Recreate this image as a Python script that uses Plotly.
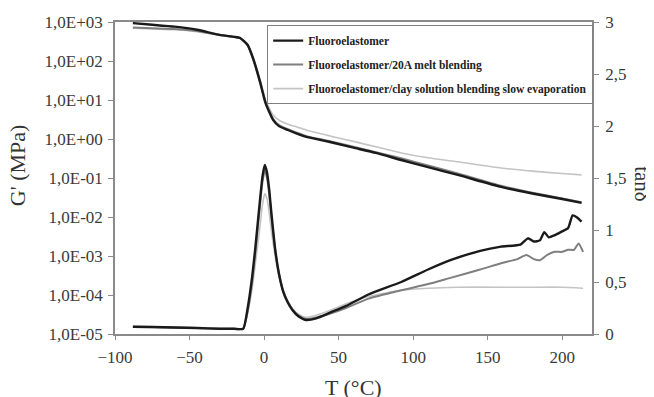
import plotly.graph_objects as go

# ---- data ----
series_names = ["Fluoroelastomer",
                "Fluoroelastomer/20A melt blending",
                "Fluoroelastomer/clay solution blending slow evaporation"]

T_g = [-88, -75, -60, -45, -30, -20, -16, -11, -7, -2.5, 1, 6, 10, 16, 22, 29, 40, 47, 60, 75, 92, 110, 130, 159, 180, 200, 213]
G_black = [933, 851, 759, 631, 468, 417, 389, 257, 107, 27.5, 8.3, 3.1, 2.14, 1.70, 1.38, 1.12, 0.91, 0.79, 0.60, 0.44, 0.29, 0.19, 0.12, 0.059, 0.040, 0.029, 0.023]
G_mid = [724, 692, 661, 589, 468, 417, 380, 251, 100, 26.3, 8.9, 3.3, 2.29, 1.78, 1.45, 1.17, 0.95, 0.83, 0.63, 0.46, 0.32, 0.21, 0.13, 0.063, 0.042, 0.030, 0.024]
G_light = [692, 661, 631, 562, 457, 407, 380, 263, 112, 31.6, 10, 4.17, 3.02, 2.40, 2.04, 1.66, 1.32, 1.12, 0.87, 0.63, 0.44, 0.33, 0.26, 0.18, 0.15, 0.13, 0.12]

T_tan_black = [-88, -75, -60, -45, -30, -20, -14, -11, -8, -6, -3, -1, 0.5, 2, 3.5, 5, 7.5, 10, 13, 16, 19, 23, 28, 35, 45, 55, 70, 92, 110, 125, 145, 159, 172, 177, 181, 185, 188, 191, 195, 199, 204, 207, 210, 213]
tan_black = [0.07, 0.068, 0.062, 0.058, 0.05, 0.05, 0.05, 0.25, 0.55, 0.81, 1.25, 1.52, 1.625, 1.55, 1.38, 1.15, 0.81, 0.58, 0.4, 0.3, 0.23, 0.17, 0.135, 0.15, 0.21, 0.27, 0.38, 0.5, 0.62, 0.71, 0.8, 0.84, 0.86, 0.92, 0.89, 0.9, 0.98, 0.93, 0.95, 0.98, 1.02, 1.14, 1.12, 1.08]

T_tan_mid = [-88, -75, -60, -45, -30, -20, -14, -11, -8, -6, -3, -1, 0.5, 2, 3.5, 5, 7.5, 10, 13, 16, 19, 23, 28, 35, 45, 55, 70, 92, 110, 125, 145, 159, 170, 176, 181, 185, 190, 195, 200, 204, 208, 211, 214]
tan_mid = [0.07, 0.068, 0.062, 0.058, 0.05, 0.05, 0.05, 0.22, 0.5, 0.76, 1.2, 1.47, 1.57, 1.5, 1.34, 1.12, 0.8, 0.58, 0.41, 0.31, 0.24, 0.18, 0.145, 0.16, 0.2, 0.25, 0.34, 0.42, 0.48, 0.54, 0.62, 0.68, 0.72, 0.76, 0.72, 0.71, 0.76, 0.79, 0.79, 0.81, 0.81, 0.87, 0.79]

T_tan_light = [-88, -75, -60, -45, -30, -20, -14, -11, -8, -6, -3, -1, 0.5, 2, 3.5, 5, 7.5, 10, 13, 16, 19, 23, 28, 35, 45, 55, 70, 92, 110, 130, 159, 180, 200, 214]
tan_light = [0.065, 0.063, 0.058, 0.055, 0.05, 0.05, 0.05, 0.2, 0.44, 0.66, 1.0, 1.25, 1.35, 1.3, 1.16, 0.98, 0.74, 0.55, 0.4, 0.31, 0.24, 0.19, 0.16, 0.18, 0.23, 0.29, 0.36, 0.42, 0.44, 0.45, 0.45, 0.45, 0.45, 0.44]

x_ticks = [-100, -50, 0, 50, 100, 150, 200]
y_left_ticks = [1e-5, 1e-4, 1e-3, 1e-2, 1e-1, 1e0, 1e1, 1e2, 1e3]
y_left_labels = ["1,0E-05", "1,0E-04", "1,0E-03", "1,0E-02", "1,0E-01", "1,0E+00", "1,0E+01", "1,0E+02", "1,0E+03"]
y_right_ticks = [0, 0.5, 1, 1.5, 2, 2.5, 3]
y_right_labels = ["0", "0,5", "1", "1,5", "2", "2,5", "3"]

colors = ["#1a1a1a", "#7f7f7f", "#c4c4c4"]
widths = [2.4, 2.0, 1.6]

fig = go.Figure()
G_list = [G_black, G_mid, G_light]
tanT_list = [T_tan_black, T_tan_mid, T_tan_light]
tan_list = [tan_black, tan_mid, tan_light]

# draw light first so black is on top
for i in [2, 1, 0]:
    fig.add_trace(go.Scatter(x=T_g, y=G_list[i], mode="lines", name=series_names[i],
                             legendgroup=str(i), showlegend=True, legendrank=i,
                             line=dict(color=colors[i], width=widths[i], shape="spline", smoothing=0.5),
                             yaxis="y"))
    fig.add_trace(go.Scatter(x=tanT_list[i], y=tan_list[i], mode="lines", name=series_names[i],
                             legendgroup=str(i), showlegend=False,
                             line=dict(color=colors[i], width=widths[i], shape="spline", smoothing=0.5),
                             yaxis="y2"))

serif = "Liberation Serif, Times New Roman, serif"
axcol = "#8a8a8a"
tickfont = dict(family=serif, size=17, color="#3a3a3a")

# page body has an 8px margin, so the figure is offset by (8, 8) in the window
fig.update_layout(
    width=654, height=397,
    margin=dict(l=107, r=70, t=14, b=71),
    paper_bgcolor="white", plot_bgcolor="white",
    font=dict(family=serif, color="#333333", size=13),
    showlegend=True,
    legend=dict(x=0.319, y=0.99, xanchor="left", yanchor="top",
                bgcolor="white", bordercolor="#808080", borderwidth=1,
                font=dict(family=serif, size=11.5, color="#222222", weight="bold"),
                traceorder="grouped", tracegroupgap=5, itemwidth=30),
    xaxis=dict(range=[-100, 220], tickvals=x_ticks, ticks="outside", ticklen=4,
               tickcolor=axcol, showline=True, linecolor=axcol, linewidth=1.5,
               mirror=True, showgrid=False, zeroline=False, ticklabelstandoff=3,
               automargin=False, tickfont=tickfont),
    yaxis=dict(type="log", range=[-5, 3], tickvals=y_left_ticks, ticktext=y_left_labels,
               ticks="outside", ticklen=5, tickcolor=axcol, showline=True,
               linecolor=axcol, linewidth=1.5, showgrid=False, zeroline=False,
               ticklabelstandoff=2, automargin=False, tickfont=tickfont),
    yaxis2=dict(range=[0, 3], tickvals=y_right_ticks, ticktext=y_right_labels,
                overlaying="y", side="right", ticks="outside", ticklen=5,
                tickcolor=axcol, showline=True, linecolor=axcol, linewidth=1.5,
                showgrid=False, zeroline=False, ticklabelstandoff=3,
                automargin=False, tickfont=tickfont),
    annotations=[
        dict(text="G' (MPa)", xref="paper", yref="paper", x=-0.204, y=0.54,
             xanchor="center", yanchor="middle", textangle=-90, showarrow=False,
             font=dict(family=serif, size=22, color="#333333")),
        dict(text="tanδ", xref="paper", yref="paper", x=1.105, y=0.48,
             xanchor="center", yanchor="middle", textangle=90, showarrow=False,
             font=dict(family=serif, size=21, color="#333333")),
        dict(text="T (°C)", xref="paper", yref="paper", x=0.5, y=-0.172,
             xanchor="center", yanchor="middle", showarrow=False,
             font=dict(family=serif, size=22, color="#333333")),
    ],
)

fig.write_html("out.html")
